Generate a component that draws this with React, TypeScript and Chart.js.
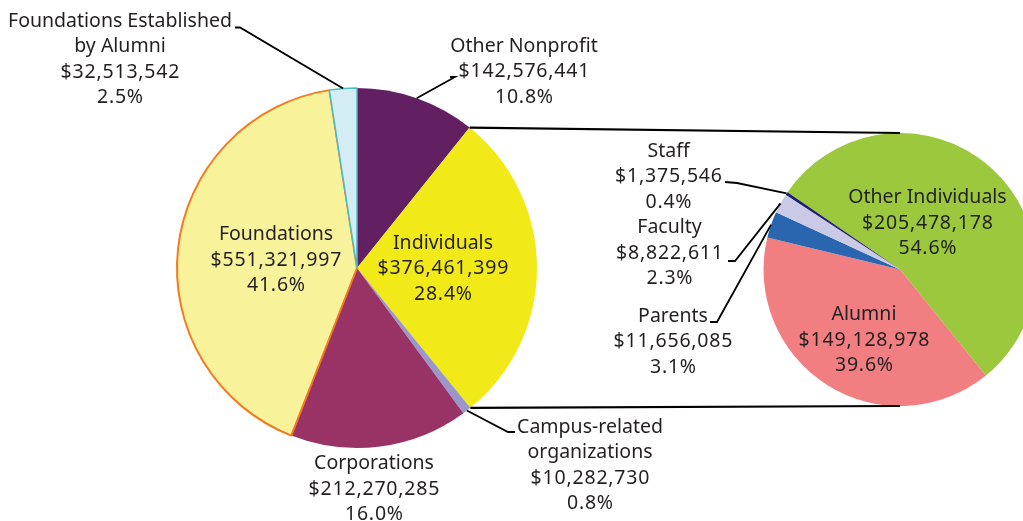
import React, { useEffect, useRef } from "react";
import { Chart, registerables } from "chart.js";

Chart.register(...registerables);

// ---------- data ----------
const mainCategories = [
  "Other Nonprofit",
  "Individuals",
  "Campus-related\norganizations",
  "Corporations",
  "Foundations",
  "Foundations Established\nby Alumni",
];
const mainValues = [142576441, 376461399, 10282730, 212270285, 551321997, 32513542];

const subCategories = ["Other Individuals", "Alumni", "Parents", "Faculty", "Staff"];
const subValues = [205478178, 149128978, 11656085, 8822611, 1375546];

// ---------- styles ----------
const mainColors = ["#621F62", "#F2EA18", "#9C97CB", "#993366", "#F8F39B", "#D4ECF3"];
const mainBorderColors = ["#621F62", "#F2EA18", "#9C97CB", "#993366", "#F47A20", "#45BFC6"];
const mainBorderWidths = [0, 0, 0, 0, 2, 1.5];
const subColors = ["#9BC83D", "#F17F82", "#2A66B0", "#CBCAE6", "#1D1D71"];

const FONT = '19.5px "Noto Sans"';
const TEXT_COLOR = "#231F20";
const LINE_H = 25.5;

// label layout: [centre x, first baseline]
const mainLabelPos: number[][] = [
  [524, 51.5],
  [443, 248.5],
  [590, 432.5],
  [374, 469],
  [276, 240],
  [120, 26.7],
];
const subLabelPos: number[][] = [
  [927.5, 203.3],
  [864, 320],
  [673, 321.7],
  [669.5, 233.3],
  [668.5, 156.5],
];
// leader line points (text side) leading to the slice anchor
const mainLeaders: Record<number, number[][]> = {
  0: [[450, 77], [455, 77]],
  2: [[515, 432], [508, 432]],
  5: [[235, 27.5], [240, 27.5]],
};
const subLeaders: Record<number, number[][]> = {
  2: [[710, 322], [717, 322]],
  3: [[728, 261], [735, 261]],
  4: [[725, 182], [737, 183]],
};

const fmtMoney = (v: number) => "$" + v.toLocaleString("en-US");
const fmtPct = (v: number, total: number) => ((v / total) * 100).toFixed(1) + "%";

function labelPlugin(
  id: string,
  categories: string[],
  values: number[],
  pos: number[][],
  leaders: Record<number, number[][]>
) {
  return {
    id,
    afterDraw(chart: any) {
      const ctx = chart.ctx as any;
      const meta = chart.getDatasetMeta(0);
      const total = values.reduce((a, b) => a + b, 0);
      ctx.save();
      meta.data.forEach((arc: any, i: number) => {
        const { x, y, startAngle, endAngle, outerRadius } = arc.getProps(
          ["x", "y", "startAngle", "endAngle", "outerRadius"],
          true
        );
        const mid = (startAngle + endAngle) / 2;
        const ax = x + Math.cos(mid) * outerRadius;
        const ay = y + Math.sin(mid) * outerRadius;
        const lead = leaders[i];
        if (lead) {
          ctx.beginPath();
          ctx.strokeStyle = "#000";
          ctx.lineWidth = 1.8;
          const pts = [...lead, [ax, ay]];
          ctx.moveTo(pts[0][0], pts[0][1]);
          for (let k = 1; k < pts.length; k++) ctx.lineTo(pts[k][0], pts[k][1]);
          ctx.stroke();
        }
        const names = categories[i].split("\n");
        const nums = [fmtMoney(values[i]), fmtPct(values[i], total)];
        ctx.font = FONT;
        ctx.fillStyle = TEXT_COLOR;
        ctx.textAlign = "center";
        ctx.textBaseline = "alphabetic";
        const [cx, b0] = pos[i];
        names.forEach((t, k) => {
          ctx.letterSpacing = "0px";
          ctx.fillText(t, cx, b0 + k * LINE_H);
        });
        nums.forEach((t, k) => {
          ctx.letterSpacing = "0.8px";
          ctx.fillText(t, cx + 0.4, b0 + (names.length + k) * LINE_H);
        });
        ctx.letterSpacing = "0px";
      });
      ctx.restore();
    },
  };
}

export default function App() {
  const mainRef = useRef<HTMLCanvasElement>(null);
  const subRef = useRef<HTMLCanvasElement>(null);

  useEffect(() => {
    if (!mainRef.current || !subRef.current) return;
    const main = new Chart(mainRef.current, {
      type: "pie",
      data: {
        labels: mainCategories,
        datasets: [
          {
            data: mainValues,
            backgroundColor: mainColors,
            borderColor: mainBorderColors,
            borderWidth: mainBorderWidths,
          },
        ],
      },
      options: {
        responsive: false,
        animation: false,
        events: [],
        rotation: 0,
        layout: { padding: { left: 176, right: 485, top: 87, bottom: 72 } },
        plugins: { legend: { display: false }, tooltip: { enabled: false } },
      },
      plugins: [labelPlugin("mainLabels", mainCategories, mainValues, mainLabelPos, mainLeaders)],
    });

    const connectors = {
      id: "connectors",
      afterDraw(chart: any) {
        const ctx = chart.ctx as CanvasRenderingContext2D;
        const big: any = main.getDatasetMeta(0).data[1];
        const small: any = chart.getDatasetMeta(0).data[0];
        const b = big.getProps(["x", "y", "startAngle", "endAngle", "outerRadius"], true);
        const s = small.getProps(["x", "y", "outerRadius"], true);
        ctx.save();
        ctx.strokeStyle = "#000";
        ctx.lineWidth = 2.2;
        ctx.beginPath();
        ctx.moveTo(b.x + Math.cos(b.startAngle) * b.outerRadius, b.y + Math.sin(b.startAngle) * b.outerRadius);
        ctx.lineTo(s.x, s.y - s.outerRadius);
        ctx.moveTo(b.x + Math.cos(b.endAngle) * b.outerRadius, b.y + Math.sin(b.endAngle) * b.outerRadius);
        ctx.lineTo(s.x, s.y + s.outerRadius);
        ctx.stroke();
        ctx.restore();
      },
    };

    const sub = new Chart(subRef.current, {
      type: "pie",
      data: {
        labels: subCategories,
        datasets: [
          {
            data: subValues,
            backgroundColor: subColors,
            borderWidth: 0,
          },
        ],
      },
      options: {
        responsive: false,
        animation: false,
        events: [],
        rotation: -55.5,
        layout: { padding: { left: 763.5, right: 63.5, top: 133, bottom: 115 } },
        plugins: { legend: { display: false }, tooltip: { enabled: false } },
      },
      plugins: [labelPlugin("subLabels", subCategories, subValues, subLabelPos, subLeaders), connectors],
    });

    return () => {
      sub.destroy();
      main.destroy();
    };
  }, []);

  return (
    <div
      style={{
        position: "absolute",
        left: 0,
        top: 0,
        width: 1023,
        height: 521,
        overflow: "hidden",
        background: "#fff",
      }}
    >
      <canvas
        ref={mainRef}
        width={1023}
        height={521}
        style={{ position: "absolute", left: 0, top: 0, width: 1023, height: 521 }}
      />
      <canvas
        ref={subRef}
        width={1100}
        height={521}
        style={{ position: "absolute", left: 0, top: 0, width: 1100, height: 521 }}
      />
    </div>
  );
}
